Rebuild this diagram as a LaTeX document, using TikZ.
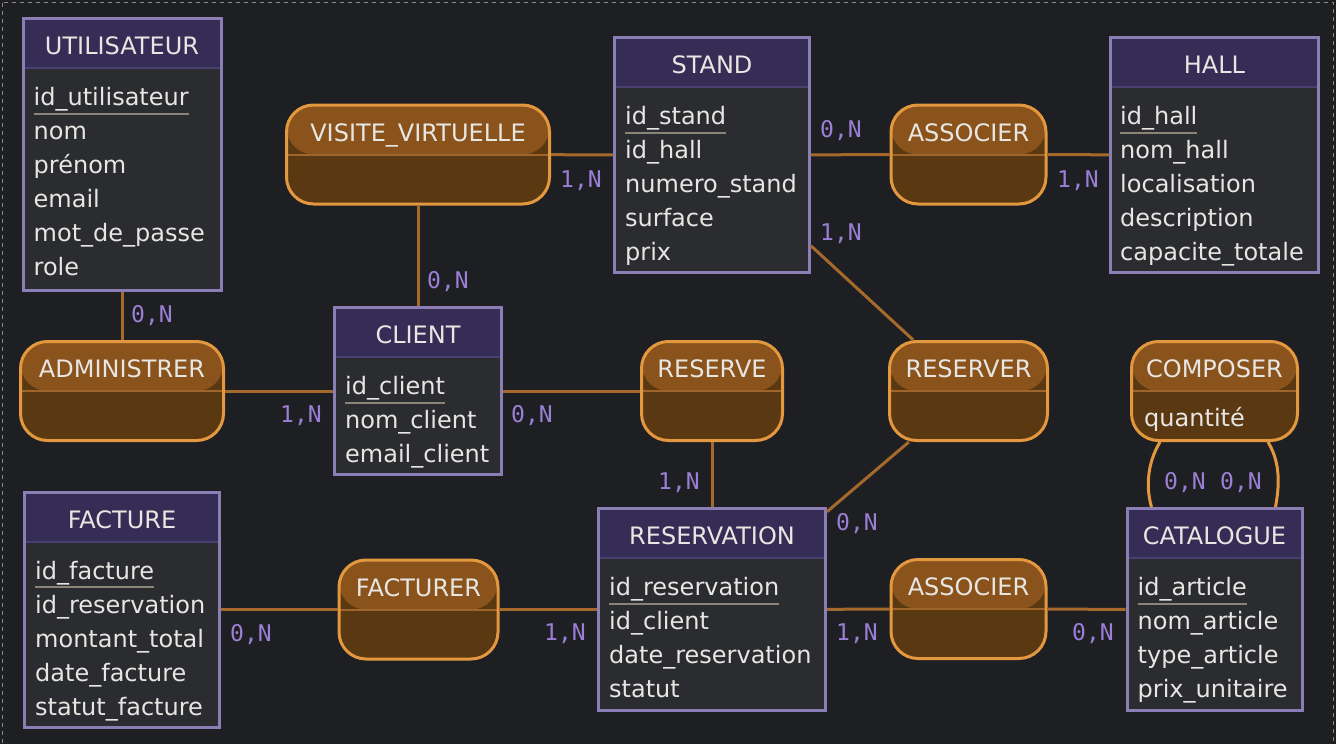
\documentclass[tikz,border=0pt]{standalone}
\usepackage{fontspec}
\setmainfont{DejaVu Sans}
\newfontfamily\cardfont{DejaVu Sans Mono}
\usetikzlibrary{positioning}

\definecolor{bgcol}{RGB}{30,31,34}
\definecolor{framecol}{RGB}{140,138,122}
\definecolor{entborder}{RGB}{138,126,180}
\definecolor{enthead}{RGB}{53,45,85}
\definecolor{entbody}{RGB}{43,44,48}
\definecolor{entsep}{RGB}{74,64,112}
\definecolor{txtcol}{RGB}{232,230,226}
\definecolor{pkline}{RGB}{140,132,120}
\definecolor{assoborder}{RGB}{227,152,63}
\definecolor{assohead}{RGB}{138,83,28}
\definecolor{assobody}{RGB}{90,57,18}
\definecolor{assosep}{RGB}{160,101,42}
\definecolor{conncol}{RGB}{165,105,44}
\definecolor{cardcol}{RGB}{155,127,214}

\newcommand{\pkey}[1]{\setbox0\hbox{#1}\rlap{\textcolor{pkline}{\rule[-9pt]{\wd0}{1.8pt}}}\box0}

\tikzset{
  entity/.style={rectangle, draw=entborder, fill=entbody, line width=3pt, inner sep=0pt,
    path picture={
      \fill[enthead] (path picture bounding box.north west) rectangle ([yshift=-49.5pt]path picture bounding box.north east);
      \draw[entsep, line width=2pt] ([yshift=-49.5pt]path picture bounding box.north west) -- ([yshift=-49.5pt]path picture bounding box.north east);
    }},
  asso/.style={rectangle, rounded corners=27pt, draw=assoborder, fill=assobody, line width=3pt, inner sep=0pt,
    minimum height=99pt,
    path picture={
      \fill[assohead] (path picture bounding box.north west) rectangle ([yshift=-49.5pt]path picture bounding box.north east);
      \draw[assosep, line width=2pt] ([yshift=-49.5pt]path picture bounding box.north west) -- ([yshift=-49.5pt]path picture bounding box.north east);
    }},
  title/.style={text=txtcol, font=\fontsize{24}{34}\selectfont, anchor=base, inner sep=0pt},
  attrs/.style={text=txtcol, font=\fontsize{24}{34}\selectfont, align=left, anchor=north west, inner sep=0pt},
  card/.style={text=cardcol, font=\cardfont\fontsize{23}{28}\selectfont, inner sep=0pt},
  conn/.style={draw=conncol, line width=3pt},
  loopline/.style={draw=assoborder, line width=3pt}
}

\begin{document}
\begin{tikzpicture}[x=1pt, y=-1pt, node distance=236pt, on grid]
    \fill[bgcol] (0,0) rectangle (1336,744);
    \useasboundingbox (0,0) rectangle (1336,744);
    \draw[framecol, line width=1pt, dash pattern=on 4pt off 4pt] (2.5,2.5) rectangle (1333.5,750);

    % entites et associations
    \node[entity, minimum width=167pt, minimum height=167pt] (client) at (418,391) {};
    \node[asso, minimum width=263pt]  (visite)       [above=236.5pt of client]      {};
    \node[asso, minimum width=203pt]  (administrer)  [left=296pt of client]         {};
    \node[entity, minimum width=198pt, minimum height=272pt] (utilisateur) [above=236.5pt of administrer] {};
    \node[asso, minimum width=141pt]  (reserve)      [right=294pt of client]        {};
    \node[entity, minimum width=195pt, minimum height=235pt] (stand)       [above=236pt of reserve]     {};
    \node[entity, minimum width=227pt, minimum height=202pt] (reservation) [below=218.5pt of reserve]   {};
    \node[asso, minimum width=159pt]  (facturer)     [left=293.5pt of reservation]  {};
    \node[entity, minimum width=195pt, minimum height=235pt] (facture)     [left=296.5pt of facturer]   {};
    \node[asso, minimum width=158pt]  (reserver)     [right=256.5pt of reserve]     {};
    \node[asso, minimum width=155pt]  (associerhall) [above=236.5pt of reserver]    {};
    \node[asso, minimum width=155pt]  (associerart)  [below=218pt of reserver]      {};
    \node[asso, minimum width=166pt]  (composer)     [right=246pt of reserver]      {};
    \node[entity, minimum width=208pt, minimum height=235pt] (hall)        [above=236pt of composer]    {};
    \node[entity, minimum width=175pt, minimum height=202pt] (catalogue)   [below=218.5pt of composer]  {};

    % titres
    \node[title] (t_utilisateur)  at ([yshift=-37.5pt]utilisateur.north)  {UTILISATEUR};
    \node[title] (t_stand)        at ([yshift=-37.5pt]stand.north)        {STAND};
    \node[title] (t_hall)         at ([yshift=-37.5pt]hall.north)         {HALL};
    \node[title] (t_client)       at ([yshift=-37.5pt]client.north)       {CLIENT};
    \node[title] (t_facture)      at ([yshift=-37.5pt]facture.north)      {FACTURE};
    \node[title] (t_reservation)  at ([yshift=-37.5pt]reservation.north)  {RESERVATION};
    \node[title] (t_catalogue)    at ([yshift=-37.5pt]catalogue.north)    {CATALOGUE};
    \node[title] (t_visite)       at ([yshift=-37.5pt]visite.north)       {VISITE\_VIRTUELLE};
    \node[title] (t_associerhall) at ([yshift=-37.5pt]associerhall.north) {ASSOCIER};
    \node[title] (t_administrer)  at ([yshift=-37.5pt]administrer.north)  {ADMINISTRER};
    \node[title] (t_reserve)      at ([yshift=-37.5pt]reserve.north)      {RESERVE};
    \node[title] (t_reserver)     at ([yshift=-37.5pt]reserver.north)     {RESERVER};
    \node[title] (t_composer)     at ([yshift=-37.5pt]composer.north)     {COMPOSER};
    \node[title] (t_facturer)     at ([yshift=-37.5pt]facturer.north)     {FACTURER};
    \node[title] (t_associerart)  at ([yshift=-37.5pt]associerart.north)  {ASSOCIER};

    % attributs
    \node[attrs] (a_utilisateur) at ([xshift=12pt,yshift=-64.7pt]utilisateur.north west)
      {\strut\pkey{id\_utilisateur}\\nom\\prénom\\email\\mot\_de\_passe\\role};
    \node[attrs] (a_stand) at ([xshift=12pt,yshift=-64.7pt]stand.north west)
      {\strut\pkey{id\_stand}\\id\_hall\\numero\_stand\\surface\\prix};
    \node[attrs] (a_hall) at ([xshift=11pt,yshift=-64.7pt]hall.north west)
      {\strut\pkey{id\_hall}\\nom\_hall\\localisation\\description\\capacite\_totale};
    \node[attrs] (a_client) at ([xshift=12pt,yshift=-64.7pt]client.north west)
      {\strut\pkey{id\_client}\\nom\_client\\email\_client};
    \node[attrs] (a_facture) at ([xshift=12pt,yshift=-64.7pt]facture.north west)
      {\strut\pkey{id\_facture}\\id\_reservation\\montant\_total\\date\_facture\\statut\_facture};
    \node[attrs] (a_reservation) at ([xshift=12pt,yshift=-64.7pt]reservation.north west)
      {\strut\pkey{id\_reservation}\\id\_client\\date\_reservation\\statut};
    \node[attrs] (a_catalogue) at ([xshift=12pt,yshift=-64.7pt]catalogue.north west)
      {\strut\pkey{id\_article}\\nom\_article\\type\_article\\prix\_unitaire};
    \node[attrs] (a_composer) at ([xshift=14pt,yshift=-62.2pt]composer.north west)
      {\strut quantité};

    % liens
    \draw[conn] (utilisateur)  -- (administrer);
    \draw[conn] (administrer)  -- (client);
    \draw[conn] (visite)       -- (stand);
    \draw[conn] (visite)       -- (client);
    \draw[conn] (stand)        -- (associerhall);
    \draw[conn] (associerhall) -- (hall);
    \draw[conn] (stand)        -- (reserver);
    \draw[conn] (reserver)     -- (reservation);
    \draw[conn] (client)       -- (reserve);
    \draw[conn] (reserve)      -- (reservation);
    \draw[conn] (facture)      -- (facturer);
    \draw[conn] (facturer)     -- (reservation);
    \draw[conn] (reservation)  -- (associerart);
    \draw[conn] (associerart)  -- (catalogue);
    \draw[loopline] ([xshift=-54.5pt]composer.south) .. controls +(-14,23) and +(-5,-17) .. ([xshift=-63pt]catalogue.north);
    \draw[loopline] ([xshift=53.5pt]composer.south) .. controls +(14,23) and +(3,-17) .. ([xshift=61pt]catalogue.north);

    % cardinalites
    \node[card] (c_utilisateur)  at (152,316)  {0,N};
    \node[card] (c_admclient)    at (301,416)  {1,N};
    \node[card] (c_visitestand)  at (581,181)  {1,N};
    \node[card] (c_visiteclient) at (448,282)  {0,N};
    \node[card] (c_standhall)    at (841,131)  {0,N};
    \node[card] (c_hall)         at (1078,181) {1,N};
    \node[card] (c_standres)     at (841,234)  {1,N};
    \node[card] (c_clientres)    at (532,416)  {0,N};
    \node[card] (c_reserve)      at (679,483)  {1,N};
    \node[card] (c_reserver)     at (857,524)  {0,N};
    \node[card] (c_facture)      at (251,635)  {0,N};
    \node[card] (c_facturer)     at (565,634)  {1,N};
    \node[card] (c_resart)       at (857,634)  {1,N};
    \node[card] (c_catalogue)    at (1093,634) {0,N};
    \node[card] (c_compose1)     at (1185,483) {0,N};
    \node[card] (c_compose2)     at (1241,483) {0,N};
\end{tikzpicture}
\end{document}
